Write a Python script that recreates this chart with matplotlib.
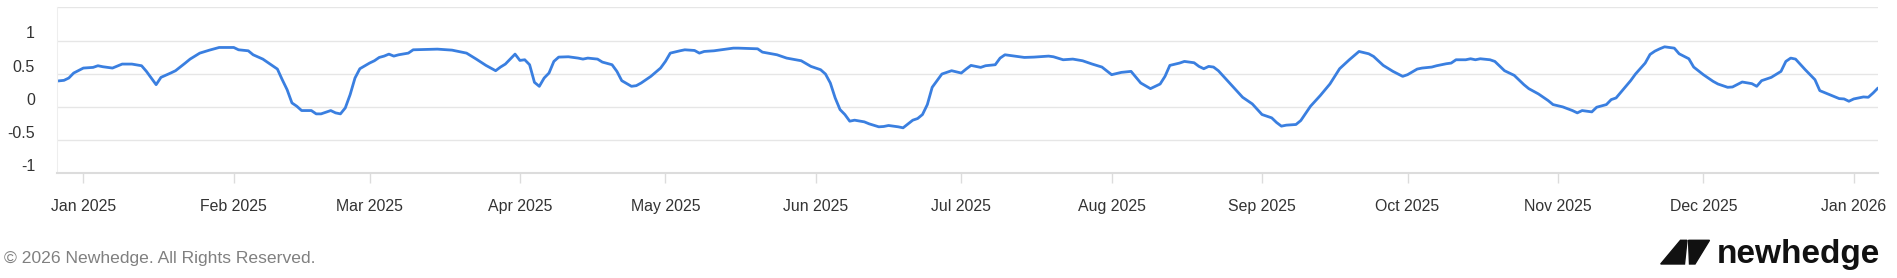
import pandas as pd
import matplotlib
matplotlib.use("Agg")
import matplotlib.pyplot as plt
import matplotlib.dates as mdates
from matplotlib.patches import Polygon
from matplotlib.transforms import ScaledTranslation

##### Dados #####
dates = [
    "2024-12-26", "2024-12-28", "2024-12-29", "2024-12-30",
    "2025-01-01", "2025-01-03", "2025-01-04", "2025-01-05", "2025-01-07", "2025-01-09", "2025-01-11",
    "2025-01-13", "2025-01-14", "2025-01-16", "2025-01-17", "2025-01-19", "2025-01-20", "2025-01-22",
    "2025-01-23", "2025-01-25", "2025-01-27", "2025-01-29",
    "2025-02-01", "2025-02-02", "2025-02-04", "2025-02-05", "2025-02-07", "2025-02-08", "2025-02-10",
    "2025-02-11", "2025-02-12", "2025-02-13", "2025-02-14", "2025-02-15", "2025-02-17", "2025-02-18",
    "2025-02-19", "2025-02-21", "2025-02-22", "2025-02-23", "2025-02-24", "2025-02-25", "2025-02-26",
    "2025-02-27",
    "2025-03-01", "2025-03-02", "2025-03-03", "2025-03-04", "2025-03-05", "2025-03-06", "2025-03-07",
    "2025-03-09", "2025-03-10", "2025-03-13", "2025-03-15", "2025-03-18", "2025-03-21", "2025-03-23",
    "2025-03-25", "2025-03-27", "2025-03-28", "2025-03-29", "2025-03-30", "2025-03-31",
    "2025-04-01", "2025-04-02", "2025-04-03", "2025-04-04", "2025-04-05", "2025-04-06", "2025-04-07",
    "2025-04-08", "2025-04-09", "2025-04-11", "2025-04-13", "2025-04-14", "2025-04-15", "2025-04-17",
    "2025-04-18", "2025-04-20", "2025-04-21", "2025-04-22", "2025-04-24", "2025-04-25", "2025-04-26",
    "2025-04-28", "2025-04-30",
    "2025-05-01", "2025-05-02", "2025-05-04", "2025-05-05", "2025-05-07", "2025-05-08", "2025-05-09",
    "2025-05-11", "2025-05-13", "2025-05-15", "2025-05-16", "2025-05-18", "2025-05-20", "2025-05-21",
    "2025-05-24", "2025-05-26", "2025-05-29", "2025-05-31",
    "2025-06-02", "2025-06-03", "2025-06-04", "2025-06-05", "2025-06-06", "2025-06-07", "2025-06-08",
    "2025-06-09", "2025-06-11", "2025-06-12", "2025-06-14", "2025-06-15", "2025-06-16", "2025-06-18",
    "2025-06-19", "2025-06-21", "2025-06-22", "2025-06-23", "2025-06-24", "2025-06-25", "2025-06-26",
    "2025-06-27", "2025-06-29",
    "2025-07-01", "2025-07-02", "2025-07-03", "2025-07-05", "2025-07-06", "2025-07-08", "2025-07-09",
    "2025-07-10", "2025-07-12", "2025-07-14", "2025-07-16", "2025-07-19", "2025-07-20", "2025-07-22",
    "2025-07-24", "2025-07-26", "2025-07-28", "2025-07-30",
    "2025-08-01", "2025-08-03", "2025-08-05", "2025-08-07", "2025-08-09", "2025-08-11", "2025-08-12",
    "2025-08-13", "2025-08-15", "2025-08-16", "2025-08-18", "2025-08-19", "2025-08-20", "2025-08-21",
    "2025-08-22", "2025-08-23", "2025-08-25", "2025-08-27", "2025-08-28", "2025-08-30",
    "2025-09-01", "2025-09-03", "2025-09-04", "2025-09-05", "2025-09-06", "2025-09-08", "2025-09-09",
    "2025-09-11", "2025-09-13", "2025-09-15", "2025-09-17", "2025-09-19", "2025-09-21", "2025-09-23",
    "2025-09-24", "2025-09-26", "2025-09-28", "2025-09-30",
    "2025-10-01", "2025-10-03", "2025-10-04", "2025-10-06", "2025-10-07", "2025-10-09", "2025-10-10",
    "2025-10-11", "2025-10-13", "2025-10-14", "2025-10-15", "2025-10-16", "2025-10-18", "2025-10-19",
    "2025-10-21", "2025-10-23", "2025-10-25", "2025-10-26", "2025-10-28", "2025-10-30", "2025-10-31",
    "2025-11-02", "2025-11-04", "2025-11-05", "2025-11-06", "2025-11-08", "2025-11-09", "2025-11-11",
    "2025-11-12", "2025-11-13", "2025-11-15", "2025-11-16", "2025-11-17", "2025-11-19", "2025-11-20",
    "2025-11-21", "2025-11-22", "2025-11-23", "2025-11-25", "2025-11-26", "2025-11-28", "2025-11-29",
    "2025-12-01", "2025-12-03", "2025-12-04", "2025-12-06", "2025-12-07", "2025-12-09", "2025-12-11",
    "2025-12-12", "2025-12-13", "2025-12-15", "2025-12-17", "2025-12-18", "2025-12-19", "2025-12-20",
    "2025-12-22", "2025-12-24", "2025-12-25", "2025-12-27", "2025-12-29", "2025-12-30", "2025-12-31",
    "2026-01-01", "2026-01-03", "2026-01-04", "2026-01-05", "2026-01-06",
]
values = [
    0.385, 0.40, 0.435, 0.51,
    0.585, 0.595, 0.62, 0.605, 0.585, 0.645, 0.645,
    0.62, 0.535, 0.335, 0.445, 0.51, 0.545, 0.66,
    0.72, 0.81, 0.855, 0.895,
    0.895, 0.86, 0.845, 0.785, 0.72, 0.67, 0.57,
    0.41, 0.26, 0.06, 0.01, -0.055, -0.055, -0.105,
    -0.105, -0.055, -0.09, -0.105, -0.015, 0.185, 0.435,
    0.575,
    0.66, 0.695, 0.745, 0.765, 0.795, 0.765, 0.785,
    0.81, 0.86, 0.865, 0.87, 0.855, 0.81, 0.72,
    0.625, 0.545, 0.60, 0.645, 0.72, 0.795,
    0.70, 0.71, 0.635, 0.37, 0.31, 0.435, 0.51,
    0.685, 0.75, 0.755, 0.735, 0.72, 0.735, 0.72,
    0.675, 0.635, 0.535, 0.395, 0.31, 0.32, 0.36,
    0.46, 0.585,
    0.685, 0.81, 0.845, 0.86, 0.85, 0.81, 0.835,
    0.845, 0.865, 0.885, 0.885, 0.88, 0.875, 0.825,
    0.785, 0.735, 0.695, 0.61,
    0.56, 0.495, 0.36, 0.135, -0.04, -0.115, -0.215,
    -0.20, -0.225, -0.255, -0.30, -0.295, -0.28, -0.30,
    -0.315, -0.20, -0.175, -0.115, 0.035, 0.295, 0.395,
    0.495, 0.545,
    0.51, 0.57, 0.625, 0.595, 0.62, 0.635, 0.735,
    0.785, 0.765, 0.745, 0.75, 0.765, 0.755, 0.71,
    0.72, 0.695, 0.645, 0.60,
    0.485, 0.52, 0.535, 0.36, 0.275, 0.345, 0.46,
    0.625, 0.66, 0.685, 0.665, 0.61, 0.575, 0.61,
    0.60, 0.545, 0.385, 0.225, 0.145, 0.045,
    -0.115, -0.165, -0.235, -0.29, -0.275, -0.265, -0.205,
    0.01, 0.17, 0.345, 0.575, 0.71, 0.835, 0.80,
    0.76, 0.625, 0.535, 0.46,
    0.485, 0.57, 0.585, 0.60, 0.62, 0.65, 0.66,
    0.71, 0.71, 0.725, 0.71, 0.725, 0.71, 0.685,
    0.545, 0.475, 0.335, 0.275, 0.195, 0.095, 0.035,
    0.0, -0.055, -0.09, -0.055, -0.075, -0.005, 0.035,
    0.11, 0.135, 0.31, 0.395, 0.495, 0.66, 0.79,
    0.84, 0.875, 0.905, 0.885, 0.80, 0.725, 0.60,
    0.485, 0.385, 0.345, 0.295, 0.30, 0.375, 0.35,
    0.31, 0.395, 0.445, 0.535, 0.685, 0.735, 0.72,
    0.56, 0.41, 0.245, 0.185, 0.125, 0.12, 0.085,
    0.12, 0.15, 0.145, 0.21, 0.285,
]
y_ticks = [-1, -0.5, 0, 0.5, 1, 1.5]
y_labels = ["-1", "-0.5", "0", "0.5", "1", ""]

serie = pd.Series(values, index=pd.to_datetime(dates))

##### Figura #####
W, H = 1897, 278
plt.rcParams["font.family"] = ["Liberation Sans", "DejaVu Sans"]
fig = plt.figure(figsize=(W / 100, H / 100), dpi=100)
ax = fig.add_axes([57.3 / W, 1 - 173.3 / H, (1878 - 57.3) / W, (173.3 - 7.3) / H])

ax.plot(serie.index, serie.values, color="#3a7fe0", lw=2.0, solid_joinstyle="round",
        solid_capstyle="round")

ax.set_xlim(pd.Timestamp("2024-12-26 15:00"), pd.Timestamp("2026-01-06"))
ax.set_ylim(-1, 1.5)

ax.set_yticks(y_ticks)
ax.set_yticklabels(y_labels)
ax.grid(axis="y", color="#e6e6e6", lw=1)
ax.tick_params(axis="y", length=0, pad=16, labelsize=11.5, labelcolor="#333333")

ax.xaxis.set_major_locator(mdates.MonthLocator())
ax.xaxis.set_major_formatter(mdates.DateFormatter("%b %Y"))
ax.tick_params(axis="x", length=7.5, width=1, color="#dcdcdc", pad=11, labelsize=11.4, labelcolor="#333333")

for s in ["top", "right"]:
    ax.spines[s].set_visible(False)
ax.spines["left"].set_color("#eeeeee")
ax.spines["bottom"].set_color("#dcdcdc")
ax.spines["bottom"].set_linewidth(1.5)

# rótulos do eixo y ficam um pouco acima das linhas
offset = ScaledTranslation(0, 8 / 100, fig.dpi_scale_trans)
for t in ax.yaxis.get_major_ticks():
    t.label1.set_transform(t.label1.get_transform() + offset)

##### Rodapé #####
fig.text(4 / W, 1 - 258 / H, "\u00a9 2026 Newhedge. All Rights Reserved.", fontsize=12.6,
         color="#808080", va="center", ha="left")
fig.text(1880 / W, 1 - 263 / H, "newhedge", fontsize=24, fontweight="bold", color="#111111",
         va="baseline", ha="right")


def px(pts):
    return [(x / W, 1 - y / H) for x, y in pts]


logo_a = [(1660.7, 264), (1680.5, 240.3), (1687, 240.3), (1684.5, 264)]
logo_b = [(1688.5, 240.3), (1709.5, 240.3), (1695, 264), (1689.5, 264)]
for pts in (logo_a, logo_b):
    fig.add_artist(Polygon(px(pts), closed=True, color="#111111", transform=fig.transFigure))

plt.savefig("out.png", dpi=100)
